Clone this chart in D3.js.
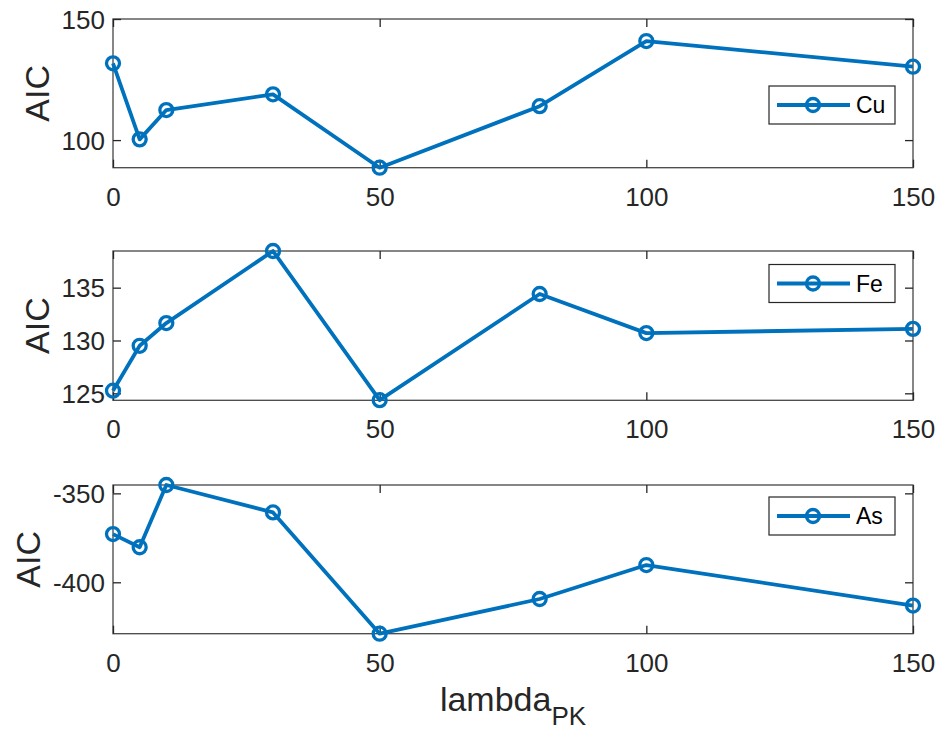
<!DOCTYPE html>
<html>
<head>
<meta charset="utf-8">
<script src="https://d3js.org/d3.v7.min.js"></script>
<style>
  body { margin: 0; background: #fff; }
  svg { display: block; font-family: "Liberation Sans", Arial, Helvetica, sans-serif; }
</style>
</head>
<body>
<svg id="chart" width="940" height="731"></svg>
<script>
// ---- data ----
const lambdaPK = [0, 5, 10, 30, 50, 80, 100, 150];
const cuAIC = [131.7, 100.3, 112.4, 118.9, 88.6, 114.0, 140.9, 130.3];
const feAIC = [125.25, 129.5, 131.65, 138.47, 124.35, 134.4, 130.7, 131.1];
const asAIC = [-372.9, -380.3, -345.3, -360.7, -428.9, -409.4, -390.3, -413.1];
const seriesNames = ["Cu", "Fe", "As"];
const xTicks = [0, 50, 100, 150];
const cuYTicks = [100, 150];
const feYTicks = [125, 130, 135];
const asYTicks = [-400, -350];
const cuYLim = [88.6, 150];
const feYLim = [124.34, 138.47];
const asYLim = [-428.9, -345.3];
const xLim = [0, 150];

const panels = [
  { name: seriesNames[0], values: cuAIC, yTicks: cuYTicks, yLim: cuYLim, top: 19, bottom: 167.7, legendTop: 86 },
  { name: seriesNames[1], values: feAIC, yTicks: feYTicks, yLim: feYLim, top: 251, bottom: 400.3, legendTop: 264.5 },
  { name: seriesNames[2], values: asAIC, yTicks: asYTicks, yLim: asYLim, top: 485, bottom: 633.7, legendTop: 497 }
];

const left = 113, right = 913;
const blue = "#0072BD", axisColor = "#262626";
const tickLen = 8;
const fmt = d => String(d);   // plain hyphen-minus like the reference
const svg = d3.select("#chart");

const x = d3.scaleLinear().domain(xLim).range([left, right]);

panels.forEach(p => {
  const y = d3.scaleLinear().domain(p.yLim).range([p.bottom, p.top]);
  const g = svg.append("g");

  // box
  g.append("rect").attr("x", left).attr("y", p.top)
    .attr("width", right - left).attr("height", p.bottom - p.top)
    .attr("fill", "none").attr("stroke", axisColor).attr("stroke-width", 1.3).attr("stroke-opacity", 0.85);

  // bottom axis (ticks inward) + top ticks
  const xb = g.append("g").attr("transform", `translate(0,${p.bottom})`)
    .call(d3.axisBottom(x).tickValues(xTicks).tickFormat(fmt).tickSizeInner(-tickLen).tickSizeOuter(0).tickPadding(0));
  xb.select(".domain").remove();
  xb.selectAll(".tick line").attr("stroke", axisColor).attr("stroke-width", 1.3);
  xb.selectAll(".tick text").attr("y", 38).attr("dy", null)
    .attr("font-size", 26).attr("fill", axisColor);
  const xt = g.append("g").attr("transform", `translate(0,${p.top})`)
    .call(d3.axisTop(x).tickValues(xTicks).tickSizeInner(-tickLen).tickSizeOuter(0).tickFormat(""));
  xt.select(".domain").remove();
  xt.selectAll(".tick line").attr("stroke", axisColor).attr("stroke-width", 1.3);

  // left axis + right ticks
  const yl = g.append("g").attr("transform", `translate(${left},0)`)
    .call(d3.axisLeft(y).tickValues(p.yTicks).tickFormat(fmt).tickSizeInner(-tickLen).tickSizeOuter(0).tickPadding(0));
  yl.select(".domain").remove();
  yl.selectAll(".tick line").attr("stroke", axisColor).attr("stroke-width", 1.3);
  yl.selectAll(".tick text").attr("x", -8).attr("dy", "0.35em")
    .attr("font-size", 26).attr("fill", axisColor);
  const yr = g.append("g").attr("transform", `translate(${right},0)`)
    .call(d3.axisRight(y).tickValues(p.yTicks).tickSizeInner(-tickLen).tickSizeOuter(0).tickFormat(""));
  yr.select(".domain").remove();
  yr.selectAll(".tick line").attr("stroke", axisColor).attr("stroke-width", 1.3);

  // y label, positioned from tick label extents
  let minLeft = Infinity;
  yl.selectAll(".tick text").each(function () {
    const b = this.getBBox();
    minLeft = Math.min(minLeft, left + b.x);
  });
  g.append("text")
    .attr("transform", `translate(${minLeft - 13},${(p.top + p.bottom) / 2}) rotate(-90)`)
    .attr("text-anchor", "middle").attr("font-size", 34).attr("fill", axisColor)
    .text("AIC");

  // line + markers
  const pts = lambdaPK.map((d, i) => [d, p.values[i]]);
  g.append("path").datum(pts)
    .attr("d", d3.line().x(d => x(d[0])).y(d => y(d[1])))
    .attr("fill", "none").attr("stroke", blue).attr("stroke-width", 3.8).attr("stroke-linejoin", "round");
  g.selectAll("circle.m").data(pts).join("circle").attr("class", "m")
    .attr("cx", d => x(d[0])).attr("cy", d => y(d[1])).attr("r", 6.5)
    .attr("fill", "none").attr("stroke", blue).attr("stroke-width", 3.3);

  // legend
  const lx = 769, lw = 126, lh = 38, ly = p.legendTop;
  const lg = g.append("g");
  lg.append("rect").attr("x", lx).attr("y", ly).attr("width", lw).attr("height", lh)
    .attr("fill", "#fff").attr("stroke", axisColor).attr("stroke-width", 1.2);
  lg.append("line").attr("x1", lx + 8).attr("x2", lx + 81).attr("y1", ly + lh / 2).attr("y2", ly + lh / 2)
    .attr("stroke", blue).attr("stroke-width", 3.8);
  lg.append("circle").attr("cx", lx + 44).attr("cy", ly + lh / 2).attr("r", 6.5)
    .attr("fill", "none").attr("stroke", blue).attr("stroke-width", 3.3);
  lg.append("text").attr("x", lx + 87).attr("y", ly + lh / 2 + 8.3)
    .attr("font-size", 23).attr("fill", "#000").text(p.name);
});

// x label
const xl = svg.append("text").attr("x", (left + right) / 2).attr("y", 711)
  .attr("text-anchor", "middle").attr("font-size", 34).attr("fill", axisColor);
xl.append("tspan").text("lambda");
xl.append("tspan").attr("font-size", 26).attr("dy", 14).text("PK");
</script>
</body>
</html>
